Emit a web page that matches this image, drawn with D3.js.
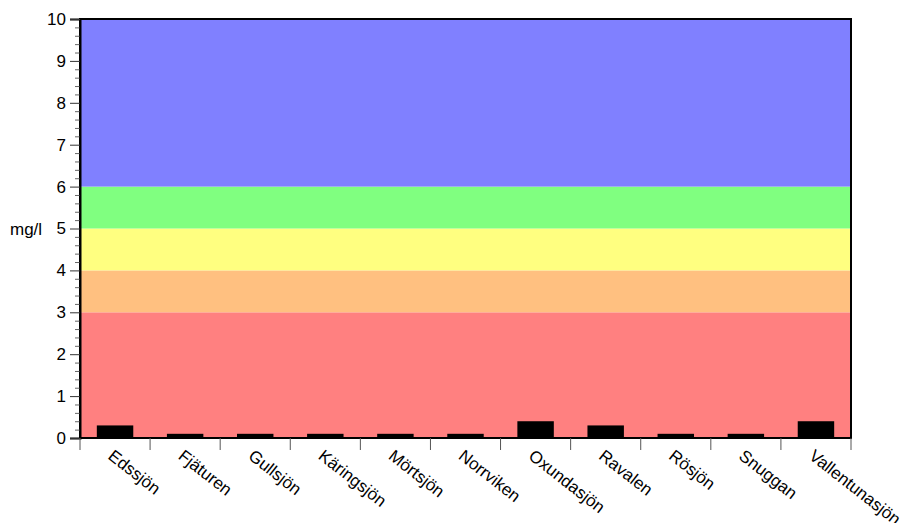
<!DOCTYPE html>
<html>
<head>
<meta charset="utf-8">
<script src="https://cdn.jsdelivr.net/npm/d3@7"></script>
<style>
  body { margin: 0; background: #fff; }
  text { font-family: "Liberation Sans", Arial, sans-serif; }
</style>
</head>
<body>
<div id="chart"></div>
<script>
// lakes and measured values (mg/l)
const lakes = ['Edssjön', 'Fjäturen', 'Gullsjön', 'Käringsjön', 'Mörtsjön', 'Norrviken',
  'Oxundasjön', 'Ravalen', 'Rösjön', 'Snuggan', 'Vallentunasjön'];
const values = [0.3, 0.1, 0.1, 0.1, 0.1, 0.1, 0.4, 0.3, 0.1, 0.1, 0.4];

// class limits for the background bands
const bandLimits = [0, 3, 4, 5, 6, 10];
const bandColors = ['#ff8080', '#ffc080', '#ffff80', '#80ff80', '#8080ff'];

const yTicks = [0, 1, 2, 3, 4, 5, 6, 7, 8, 9, 10];

const W = 905, H = 523;
const margin = { top: 19, right: 54, bottom: 85, left: 80 };
const width = W - margin.left - margin.right;
const height = H - margin.top - margin.bottom;

const svg = d3.select('#chart').append('svg')
  .attr('width', W).attr('height', H)
  .append('g')
  .attr('transform', `translate(${margin.left},${margin.top})`);

const x = d3.scaleBand().domain(lakes).range([0, width]).paddingInner(0).paddingOuter(0);
const y = d3.scaleLinear().domain([0, 10]).range([height, 0]);

// background bands
svg.selectAll('rect.band')
  .data(bandColors)
  .enter().append('rect')
  .attr('class', 'band')
  .attr('x', 0)
  .attr('width', width)
  .attr('y', (d, i) => y(bandLimits[i + 1]))
  .attr('height', (d, i) => y(bandLimits[i]) - y(bandLimits[i + 1]))
  .attr('fill', d => d);

// bars
const barW = x.bandwidth() * 0.52;
svg.selectAll('rect.bar')
  .data(values)
  .enter().append('rect')
  .attr('class', 'bar')
  .attr('x', (d, i) => x(lakes[i]) + (x.bandwidth() - barW) / 2)
  .attr('width', barW)
  .attr('y', d => y(d))
  .attr('height', d => y(0) - y(d))
  .attr('fill', '#000');

// frame
svg.append('rect')
  .attr('width', width).attr('height', height)
  .attr('fill', 'none').attr('stroke', '#000').attr('stroke-width', 2);

// y axis with minor ticks
const yMinor = d3.range(0, 10.001, 0.2).filter(v => Math.abs(v - Math.round(v)) > 0.01);
svg.append('g')
  .call(d3.axisLeft(y).tickValues(yMinor).tickSize(5).tickFormat(''))
  .call(g => g.select('.domain').remove())
  .call(g => g.selectAll('line').attr('stroke', '#666'));
const yAxis = svg.append('g')
  .call(d3.axisLeft(y).tickValues(yTicks).tickSize(10).tickPadding(4).tickFormat(d3.format('d')));
yAxis.select('.domain').attr('stroke', '#000').attr('stroke-width', 2);
yAxis.selectAll('line').attr('stroke', '#333');
yAxis.selectAll('text').style('font-size', '17px').attr('fill', '#000');

// x axis: ticks at category boundaries
const bounds = lakes.map(l => x(l)).concat([width]);
svg.append('g').selectAll('line')
  .data(bounds)
  .enter().append('line')
  .attr('x1', d => d).attr('x2', d => d)
  .attr('y1', height).attr('y2', height + 12)
  .attr('stroke', '#555');

svg.append('g').selectAll('text')
  .data(lakes)
  .enter().append('text')
  .attr('transform', d => `translate(${x(d) + x.bandwidth() / 2 - 8},${height + 20}) rotate(38)`)
  .attr('text-anchor', 'start')
  .style('font-size', '17px')
  .text(d => d);

// unit label
svg.append('text')
  .attr('x', -70)
  .attr('y', y(5) + 6)
  .style('font-size', '17px')
  .text('mg/l');
</script>
</body>
</html>
